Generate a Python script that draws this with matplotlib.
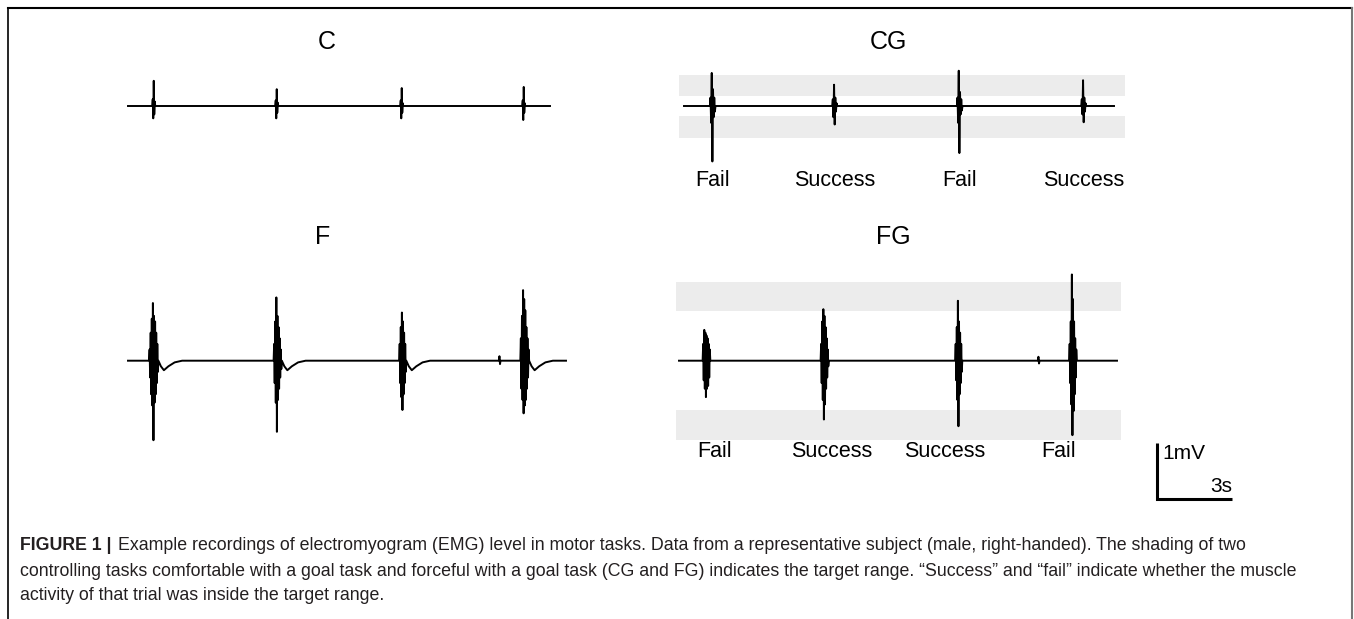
import matplotlib
matplotlib.use('Agg')
import matplotlib.pyplot as plt
from matplotlib.lines import Line2D

plt.rcParams['font.family'] = ['Liberation Sans', 'DejaVu Sans']

# --- data (time in s, amplitude in mV) ---
panel_names = ['C', 'CG', 'F', 'FG']

c_end = 16.88
c_times = [1.04, 5.96, 10.96, 15.84]
c_bursts = [[0.12, -0.22, 0.45, -0.15, 0.08],
            [0.10, -0.22, 0.30, -0.12, 0.06],
            [0.10, -0.22, 0.32, -0.12, 0.05],
            [0.10, -0.25, 0.34, -0.12, 0.05]]

cg_end = 17.2
cg_times = [1.16, 6.04, 11.04, 16.0]
cg_bursts = [[0.15, -0.30, 0.59, -0.99, 0.30, -0.20, 0.15, -0.10],
             [0.12, -0.20, 0.38, -0.33, 0.15, -0.10, 0.05],
             [0.15, -0.30, 0.63, -0.84, 0.25, -0.15, 0.12, -0.08],
             [0.12, -0.15, 0.46, -0.29, 0.15, -0.10, 0.05]]
cg_band_upper = [0.18, 0.55]
cg_band_lower = [-0.57, -0.18]
cg_labels = ['Fail', 'Success', 'Fail', 'Success']

f_end = 17.52
f_times = [1.04, 6.0, 11.0, 15.88, 14.88]
f_bursts = [[0.2, -0.3, 0.5, -0.6, 0.75, -0.8, 1.03, -1.42, 0.8, -0.75, 0.7, -0.6, 0.5, -0.4, 0.3, -0.2],
            [0.3, -0.4, 0.7, -0.75, 1.13, -1.27, 0.8, -0.7, 0.6, -0.5, 0.4, -0.3, 0.2, -0.15],
            [0.3, -0.4, 0.6, -0.65, 0.86, -0.88, 0.7, -0.6, 0.5, -0.4, 0.3, -0.2],
            [0.4, -0.5, 0.8, -0.7, 1.26, -0.94, 1.1, -0.8, 0.9, -0.7, 0.6, -0.5, 0.4, -0.3, 0.2],
            [0.08, -0.06]]
# slow undershoot after each F burst (time after burst, mV)
f_dip_t = [0.1, 0.22, 0.4, 0.65, 0.95]
f_dip_v = [-0.1, -0.17, -0.1, -0.03, 0.0]

fg_end = 17.52
fg_times = [1.11, 5.84, 11.2, 15.77, 14.4]
fg_bursts = [[0.3, -0.35, 0.55, -0.5, 0.5, -0.65, 0.45, -0.5, 0.4, -0.45, 0.3, -0.3, 0.2],
             [0.3, -0.4, 0.7, -0.7, 0.92, -1.05, 0.8, -0.78, 0.6, -0.5, 0.4, -0.3, 0.2, -0.1],
             [0.3, -0.35, 0.6, -0.7, 1.07, -1.17, 0.7, -0.6, 0.5, -0.4, 0.3, -0.2],
             [0.3, -0.4, 0.7, -0.78, 1.54, -1.33, 1.1, -0.9, 0.7, -0.6, 0.4, -0.3, 0.2],
             [0.07, -0.05]]
fg_band_upper = [0.88, 1.41]
fg_band_lower = [-1.42, -0.88]
fg_labels = ['Fail', 'Success', 'Success', 'Fail']
fg_label_t = [1.44, 6.12, 10.64, 15.2]

scale_mv = 1
scale_s = 3

caption = [
    "Example recordings of electromyogram (EMG) level in motor tasks. Data from a representative subject (male, right-handed). The shading of two",
    "controlling tasks comfortable with a goal task and forceful with a goal task (CG and FG) indicates the target range. \u201cSuccess\u201d and \u201cfail\u201d indicate whether the muscle",
    "activity of that trial was inside the target range.",
]

# --- layout ---
W, H = 1354, 619
PX_S = 25.0   # pixels per second
PX_MV = 56.0  # pixels per mV

fig = plt.figure(figsize=(W / 100, H / 100), dpi=100)


def panel(x0, y0):
    # x0, y0 : pixel position of t=0 / 0 mV
    tmin, tmax, vmin, vmax = -0.5, 18.5, -1.7, 1.7
    ax = fig.add_axes([(x0 + tmin * PX_S) / W,
                       (H - (y0 - vmin * PX_MV)) / H,
                       (tmax - tmin) * PX_S / W,
                       (vmax - vmin) * PX_MV / H])
    ax.set_xlim(tmin, tmax)
    ax.set_ylim(vmin, vmax)
    ax.axis('off')
    return ax


def trace(t_end, times, bursts, dt, dip_t=None, dip_v=None):
    t, v = [0.0], [0.0]
    for tc, peaks in zip(times, bursts):
        t0 = tc - len(peaks) * dt / 2
        t.append(t0 - dt)
        v.append(0.0)
        for i, p in enumerate(peaks):
            t.append(t0 + i * dt)
            v.append(p)
        te = t0 + len(peaks) * dt
        t.append(te)
        v.append(0.0)
        if dip_t is not None and len(peaks) > 4:
            for a, b in zip(dip_t, dip_v):
                t.append(te + a)
                v.append(b)
    order = sorted(range(len(t)), key=lambda k: t[k])
    t = [t[k] for k in order] + [t_end]
    v = [v[k] for k in order] + [0.0]
    return t, v


band_col = '#ececec'
lw = 1.4

ax_c = panel(128, 106)
ax_c.plot(*trace(c_end, c_times, c_bursts, 0.02), color='black', lw=lw)

ax_cg = panel(684, 106)
for lo, hi in (cg_band_upper, cg_band_lower):
    ax_cg.fill_between([-0.2, 17.64], lo, hi, color=band_col, lw=0, zorder=0)
ax_cg.plot(*trace(cg_end, cg_times, cg_bursts, 0.025), color='black', lw=lw)
for tc, lab in zip(cg_times, cg_labels):
    ax_cg.text(tc, -1.33, lab, ha='center', va='center', fontsize=15.5, clip_on=False)

ax_f = panel(128, 360.7)
ax_f.plot(*trace(f_end, f_times, f_bursts, 0.022, f_dip_t, f_dip_v), color='black', lw=lw)

ax_fg = panel(679, 360.7)
for lo, hi in (fg_band_upper, fg_band_lower):
    ax_fg.fill_between([-0.12, 17.68], lo, hi, color=band_col, lw=0, zorder=0)
ax_fg.plot(*trace(fg_end, fg_times, fg_bursts, 0.022), color='black', lw=lw)
for tc, lab in zip(fg_label_t, fg_labels):
    ax_fg.text(tc, -1.63, lab, ha='center', va='center', fontsize=15.5, clip_on=False)

# scale bar
sx, sy = 19.12, -2.47
ax_fg.plot([sx, sx, sx + scale_s], [sy + scale_mv, sy, sy], color='black', lw=2.2,
           clip_on=False, solid_capstyle='butt', solid_joinstyle='miter')
ax_fg.text(sx + 0.2, sy + scale_mv - 0.18, '%dmV' % scale_mv, ha='left', va='center',
           fontsize=15, clip_on=False)
ax_fg.text(sx + scale_s, sy + 0.22, '%ds' % scale_s, ha='right', va='center',
           fontsize=15, clip_on=False)

# titles
for name, (px, py) in zip(panel_names, [(327, 42), (888, 42), (323, 237), (893, 237)]):
    fig.text(px / W, 1 - py / H, name, ha='center', va='center', fontsize=18)

# caption
cap_col = '#231f20'
cap_fs = 12.8
t1 = fig.text(20 / W, 1 - 546 / H, 'FIGURE 1 |', fontsize=cap_fs, fontweight='bold',
              color=cap_col, va='center', ha='left')
fig.canvas.draw()
bb = t1.get_window_extent()
fig.text((bb.x1 + 6) / W, 1 - 546 / H, caption[0], fontsize=cap_fs, color=cap_col,
         va='center', ha='left')
fig.text(20 / W, 1 - 571 / H, caption[1], fontsize=cap_fs, color=cap_col, va='center', ha='left')
fig.text(20 / W, 1 - 595 / H, caption[2], fontsize=cap_fs, color=cap_col, va='center', ha='left')

# frame
fig.add_artist(Line2D([8 / W, 1352 / W], [1 - 8 / H, 1 - 8 / H], color='black', lw=1.5))
fig.add_artist(Line2D([8 / W, 8 / W], [0, 1 - 8 / H], color='black', lw=1.2))
fig.add_artist(Line2D([1352 / W, 1352 / W], [0, 1 - 8 / H], color='#777777', lw=1.5))

fig.savefig('out.png', dpi=100)
